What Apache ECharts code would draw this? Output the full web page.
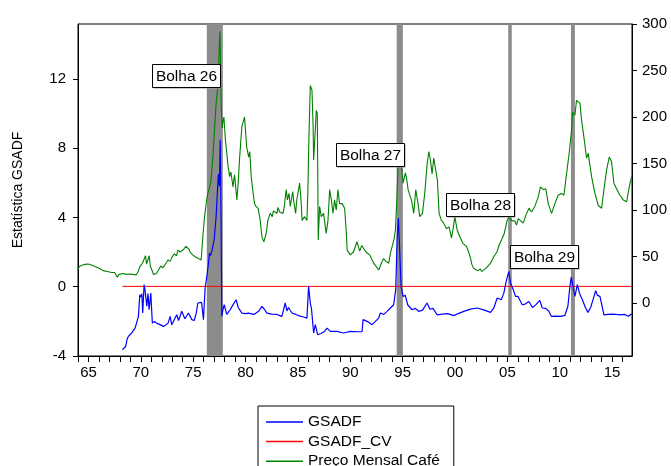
<!DOCTYPE html>
<html>
<head>
<meta charset="utf-8">
<title>GSADF - Preço Mensal Café</title>
<script src="https://cdn.jsdelivr.net/npm/echarts@6/dist/echarts.min.js"></script>
<style>
    html, body { margin: 0; padding: 0; background: #fff; }
    #chart { width: 671px; height: 466px; }
</style>
</head>
<body>
<div id="chart"></div>
<script>
// preço mensal do café (eixo da direita)
var priceYears = [1964.0,1964.2,1964.45,1964.8,1965.1,1965.5,1965.75,1966.1,1966.4,1966.8,1967.2,1967.5,1967.75,1967.9,1968.3,1968.6,1968.9,1969.2,1969.55,1969.75,1969.9,
    1970.15,1970.3,1970.45,1970.55,1970.7,1970.8,1970.9,1971.05,1971.2,1971.3,1971.5,1971.6,1971.9,1972.1,1972.25,1972.45,1972.6,1972.8,1972.95,
    1973.2,1973.4,1973.55,1973.75,1973.9,1974.1,1974.3,1974.45,1974.6,1974.7,1974.95,1975.2,1975.5,1975.76,1975.92,1976.08,1976.25,1976.4,1976.55,1976.7,1976.9,
    1977.03,1977.19,1977.35,1977.45,1977.55,1977.62,1977.68,1977.77,1977.85,1977.93,1978.08,1978.2,1978.3,1978.47,1978.6,1978.8,1978.95,1979.08,1979.17,1979.3,1979.42,1979.55,1979.65,1979.8,1979.9,
    1980.0,1980.1,1980.3,1980.4,1980.54,1980.7,1980.86,1981.0,1981.2,1981.4,1981.5,1981.59,1981.75,1981.97,1982.13,1982.35,1982.55,1982.65,1982.77,1983.0,1983.1,1983.25,1983.57,1983.7,1983.88,
    1984.0,1984.15,1984.27,1984.5,1984.6,1984.78,1984.9,1985.0,1985.16,1985.3,1985.4,1985.64,1985.86,1985.95,1986.05,1986.18,1986.34,1986.45,1986.5,1986.66,1986.75,1986.85,1986.94,
    1987.07,1987.23,1987.45,1987.7,1987.87,1988.03,1988.19,1988.35,1988.5,1988.66,1988.82,1988.98,1989.24,1989.46,1989.6,1989.7,1990.0,1990.3,1990.64,1990.8,1990.9,1991.1,1991.37,1991.6,1991.85,
    1992.08,1992.3,1992.5,1992.71,1992.87,1993.0,1993.19,1993.4,1993.67,1993.85,1994.0,1994.2,1994.31,1994.4,1994.5,1994.56,1994.72,1994.88,1995.04,1995.15,1995.26,1995.4,1995.52,1995.74,1995.84,
    1996.06,1996.25,1996.47,1996.63,1996.89,1997.11,1997.34,1997.5,1997.65,1997.81,1997.97,1998.16,1998.32,1998.48,1998.7,1998.93,1999.18,1999.44,1999.66,1999.82,1999.98,
    2000.2,2000.46,2000.78,2001.1,2001.3,2001.48,2001.6,2001.75,2002.0,2002.2,2002.4,2002.55,2002.7,2003.0,2003.39,2003.7,2004.0,2004.2,2004.44,2004.7,2004.98,2005.17,2005.4,2005.72,2005.87,
    2006.04,2006.19,2006.51,2006.83,2007.08,2007.3,2007.62,2007.94,2008.16,2008.42,2008.67,2008.9,2009.22,2009.54,2009.85,2010.17,2010.4,2010.65,2010.9,
    2011.13,2011.22,2011.29,2011.45,2011.6,2011.77,2011.93,2012.08,2012.3,2012.56,2012.72,2013.04,2013.36,2013.68,2014.0,2014.22,2014.47,2014.73,2014.95,
    2015.17,2015.43,2015.75,2016.07,2016.39,2016.64,2016.86];
var priceVals = [37,40,41,42,41.8,40,39,37,35,34,33,33,28,31,32,31,31.4,31,30.4,34,39,
    43,41,51,42,40,51,40,36,31,29,32,34,40,38,39,44,46.5,45,49,
    53,51,57,55,53,58,61,60,58,55,52,50,48,46.5,71.5,93,108,118,124,132,160,
    186,215,232,262,292,250,210,188,196,200,175,162,150,136,141,125,138,122,111,130,154,175,190,196,200,
    185,168,157,163,136,120,107,104,102,89,78,70,66,75,89,96.5,93,99,100,96.5,103,98,96.5,104,122,
    111,118,104,120,110,96.5,112,118,129,110,89,93,89,120,179,234,229,190,154,186,207,204,68,
    104,93,96.5,75,89,122,111,96.5,111,100,122,107,107,102,80,57,52,55,66,64,56,62,57,54,52,
    46.5,42,39,35.7,40,44,48,45,43,55,61,70,79,100,130,147,154,147,129,135,140,132,122,114,111,
    96.5,122,107,93,96.5,118,150,163,154,139,156,157,132,96.5,89,86,80,82,70,80,93,
    79,71.5,64,61,55,48.6,42,38,36,35,37,34,36,38,43,50,55,62,68,75,89,93,89,88,84,
    91,93,86,96.5,102,98,104,114,125,122,123,107,96.5,107,116,118,116,139,161,
    186,205,204,202,218,216,215,197,179,156,161,136,118,105,102,122,143,157,152,
    129,123,116,111,109,125,136];

// estatística GSADF (eixo da esquerda)
var gsadfYears = [1968.25,1968.4,1968.55,1968.7,1968.81,1968.95,1969.13,1969.3,1969.45,1969.6,1969.77,1969.9,1970.0,1970.1,1970.18,1970.31,1970.4,1970.5,1970.57,1970.68,1970.79,1970.95,
    1971.1,1971.3,1971.5,1971.84,1972.0,1972.16,1972.4,1972.6,1972.8,1972.95,1973.15,1973.43,1973.6,1973.91,1974.2,1974.55,1974.87,1975.1,1975.3,1975.44,1975.6,1975.8,1975.98,
    1976.14,1976.3,1976.45,1976.55,1976.65,1976.81,1977.0,1977.19,1977.32,1977.41,1977.5,1977.58,1977.66,1977.73,1977.85,1977.96,1978.2,1978.53,1978.8,1979.1,1979.3,1979.65,
    1980.0,1980.28,1980.8,1981.24,1981.56,1981.8,1982.04,1982.5,1983.0,1983.47,1983.79,1983.95,1984.1,1984.43,1984.8,1985.2,1985.54,1985.86,1986.02,1986.18,1986.3,1986.5,1986.66,1986.88,
    1987.2,1987.5,1987.78,1988.1,1988.73,1989.36,1990.0,1990.64,1991.12,1991.22,1991.6,1992.08,1992.4,1992.71,1992.87,1993.2,1993.51,1993.83,1994.14,1994.34,1994.47,1994.59,1994.69,1994.85,
    1995.04,1995.25,1995.48,1995.9,1996.2,1996.53,1996.9,1997.33,1997.6,1997.9,1998.29,1998.8,1999.3,1999.88,2000.3,2000.84,2001.48,2002.12,2002.8,2003.39,2003.7,
    2004.03,2004.2,2004.41,2004.66,2004.92,2005.14,2005.3,2005.56,2005.78,2006.0,2006.19,2006.42,2006.7,2007.05,2007.4,2007.7,2008.1,2008.33,2008.65,2008.96,2009.19,2009.6,
    2010.08,2010.5,2010.78,2010.97,2011.1,2011.2,2011.29,2011.45,2011.68,2011.9,2012.16,2012.45,2012.69,2012.95,2013.2,2013.43,2013.6,2013.84,2014.0,2014.22,2014.6,
    2015.0,2015.4,2015.81,2016.2,2016.55,2016.87];
var gsadfVals = [-3.64,-3.6,-3.45,-3.0,-2.87,-2.95,-2.67,-2.6,-2.39,-2.5,-1.71,-0.46,-0.6,-0.4,-1.52,0.12,-0.2,-0.3,-1.13,-0.4,-1.33,-0.37,
    -2.1,-2.0,-2.1,-2.19,-2.2,-2.29,-2.2,-2.1,-1.71,-2.2,-1.95,-1.62,-1.95,-1.42,-1.85,-1.52,-1.9,-1.95,-1.5,-0.94,-0.85,-0.9,-1.9,
    -0.08,0.59,1.3,1.94,1.8,2.14,2.71,4.06,5.6,6.5,5.8,8.48,3.9,-1.71,-1.3,-1.04,-1.6,-1.33,-1.05,-0.75,-1.2,-1.52,
    -1.55,-1.52,-1.6,-1.42,-1.13,-1.3,-1.52,-1.58,-1.6,-1.71,-0.94,-1.4,-1.2,-1.52,-1.6,-1.7,-1.75,-1.81,0.02,-0.94,-1.3,-2.67,-2.19,-2.77,
    -2.7,-2.6,-2.39,-2.58,-2.58,-2.67,-2.58,-2.6,-2.6,-1.9,-2.0,-2.19,-2.0,-1.81,-1.52,-1.6,-1.42,-1.23,-1.04,-0.17,2.71,3.96,2.52,0.02,
    -0.56,-0.5,-1.04,-1.33,-1.25,-1.42,-1.35,-0.94,-1.3,-1.25,-1.62,-1.58,-1.55,-1.67,-1.55,-1.42,-1.29,-1.23,-1.35,-1.48,-1.23,
    -0.65,-0.7,-0.75,-0.37,0.4,0.88,0.21,-0.17,-0.56,-0.55,-0.46,-1.04,-1.0,-0.85,-1.2,-1.05,-0.79,-1.23,-1.25,-1.42,-1.71,-1.7,
    -1.71,-1.65,-1.13,0.02,0.56,0.45,0.63,-0.56,0.12,-0.4,-0.75,-1.2,-1.48,-1.2,-0.7,-0.23,-0.5,-0.56,-1.0,-1.62,-1.6,
    -1.58,-1.6,-1.62,-1.6,-1.71,-1.56];

// valor crítico
var cvYears = [1968.25, 2016.9];
var cvVals = [0.02, 0.02];

// períodos de bolha
var bubbleNames = ['Bolha 26', 'Bolha 27', 'Bolha 28', 'Bolha 29'];
var bubbleStart = [1976.3, 1994.43, 2005.08, 2011.07];
var bubbleEnd = [1977.83, 1995.02, 2005.42, 2011.45];

// ticks
var xTickVals = [];
for (var t = 1964; t <= 2016; t++) xTickVals.push(t);
var xLabelVals = [1965, 1970, 1975, 1980, 1985, 1990, 1995, 2000, 2005, 2010, 2015];
var leftTickVals = [-4, 0, 4, 8, 12];
var rightTickVals = [0, 50, 100, 150, 200, 250, 300];

// caixas das anotações (pixels)
var boxPos = [[152, 64], [336, 143], [446, 193], [510, 245]];

var FONT = 'Liberation Sans, Arial, sans-serif';

function zip(xs, ys) {
    var out = [];
    for (var i = 0; i < xs.length; i++) out.push([xs[i], ys[i]]);
    return out;
}

var myChart = echarts.init(document.getElementById('chart'));

var areas = [];
for (var i = 0; i < bubbleStart.length; i++) {
    areas.push([{ xAxis: bubbleStart[i] }, { xAxis: bubbleEnd[i] }]);
}

var graphics = [];
for (var i = 0; i < bubbleNames.length; i++) {
    graphics.push({
        type: 'rect', z: 100,
        shape: { x: boxPos[i][0] + 1.5, y: boxPos[i][1] + 1.5, width: 68, height: 23 },
        style: { fill: '#999' }
    });
    graphics.push({
        type: 'rect', z: 101,
        shape: { x: boxPos[i][0] + 0.5, y: boxPos[i][1] + 0.5, width: 68, height: 23 },
        style: { fill: '#fff', stroke: '#000', lineWidth: 1 }
    });
    graphics.push({
        type: 'text', z: 102,
        x: boxPos[i][0] + 34.5, y: boxPos[i][1] + 12.5,
        style: { text: bubbleNames[i], font: '15.5px ' + FONT, fill: '#000', align: 'center', verticalAlign: 'middle' }
    });
}

var option = {
    animation: false,
    backgroundColor: '#fff',
    textStyle: { fontFamily: FONT },
    grid: {
        left: 78, right: 39, top: 24, bottom: 110,
        show: true, borderColor: '#000', borderWidth: 1
    },
    legend: {
        data: ['GSADF', 'GSADF_CV', 'Preço Mensal Café'],
        orient: 'vertical',
        left: 258, top: 406, height: 120,
        borderColor: '#000', borderWidth: 1,
        padding: [8, 14, 8, 8],
        icon: 'rect',
        itemWidth: 37, itemHeight: 1.5, itemGap: 3.6,
        selectedMode: false,
        textStyle: { fontSize: 15.5, lineHeight: 15, color: '#000', fontFamily: FONT }
    },
    xAxis: {
        type: 'value',
        min: 1964, max: 2016.9,
        axisLine: { onZero: false, lineStyle: { color: '#000' } },
        axisTick: { customValues: xTickVals, length: 6, lineStyle: { color: '#000' } },
        axisLabel: {
            customValues: xLabelVals,
            formatter: function (v) { var s = String(v % 100); return s.length < 2 ? '0' + s : s; },
            fontSize: 15, color: '#000', margin: 9, fontFamily: FONT
        },
        splitLine: { show: false }
    },
    yAxis: [
        {
            type: 'value',
            position: 'left',
            min: -4, max: 15.17,
            name: 'Estatística GSADF',
            nameLocation: 'middle',
            nameGap: 53,
            nameTextStyle: { fontSize: 14, color: '#000', fontFamily: FONT },
            axisLine: { show: true, onZero: false, lineStyle: { color: '#000' } },
            axisTick: { show: true, customValues: leftTickVals, length: 5, lineStyle: { color: '#000' } },
            axisLabel: { customValues: leftTickVals, fontSize: 15, color: '#000', margin: 12, fontFamily: FONT },
            splitLine: { show: false }
        },
        {
            type: 'value',
            position: 'right',
            min: -56.7, max: 300,
            axisLine: { show: true, onZero: false, lineStyle: { color: '#000' } },
            axisTick: { show: true, customValues: rightTickVals, length: 5, lineStyle: { color: '#000' } },
            axisLabel: { customValues: rightTickVals, fontSize: 15, color: '#000', margin: 10, fontFamily: FONT },
            splitLine: { show: false }
        }
    ],
    graphic: graphics,
    series: [
        {
            name: 'GSADF_CV',
            type: 'line',
            yAxisIndex: 0,
            symbol: 'none',
            z: 2,
            lineStyle: { color: '#ff0000', width: 1 },
            itemStyle: { color: '#ff0000' },
            data: zip(cvYears, cvVals),
            markArea: {
                silent: true,
                itemStyle: { color: '#8c8c8c', opacity: 1 },
                data: areas
            }
        },
        {
            name: 'GSADF',
            type: 'line',
            yAxisIndex: 0,
            symbol: 'none',
            z: 3,
            lineStyle: { color: '#0000ff', width: 1.2 },
            itemStyle: { color: '#0000ff' },
            data: zip(gsadfYears, gsadfVals)
        },
        {
            name: 'Preço Mensal Café',
            type: 'line',
            yAxisIndex: 1,
            symbol: 'none',
            z: 3,
            lineStyle: { color: '#008000', width: 1.1 },
            itemStyle: { color: '#008000' },
            data: zip(priceYears, priceVals)
        }
    ]
};

myChart.setOption(option);
</script>
</body>
</html>
